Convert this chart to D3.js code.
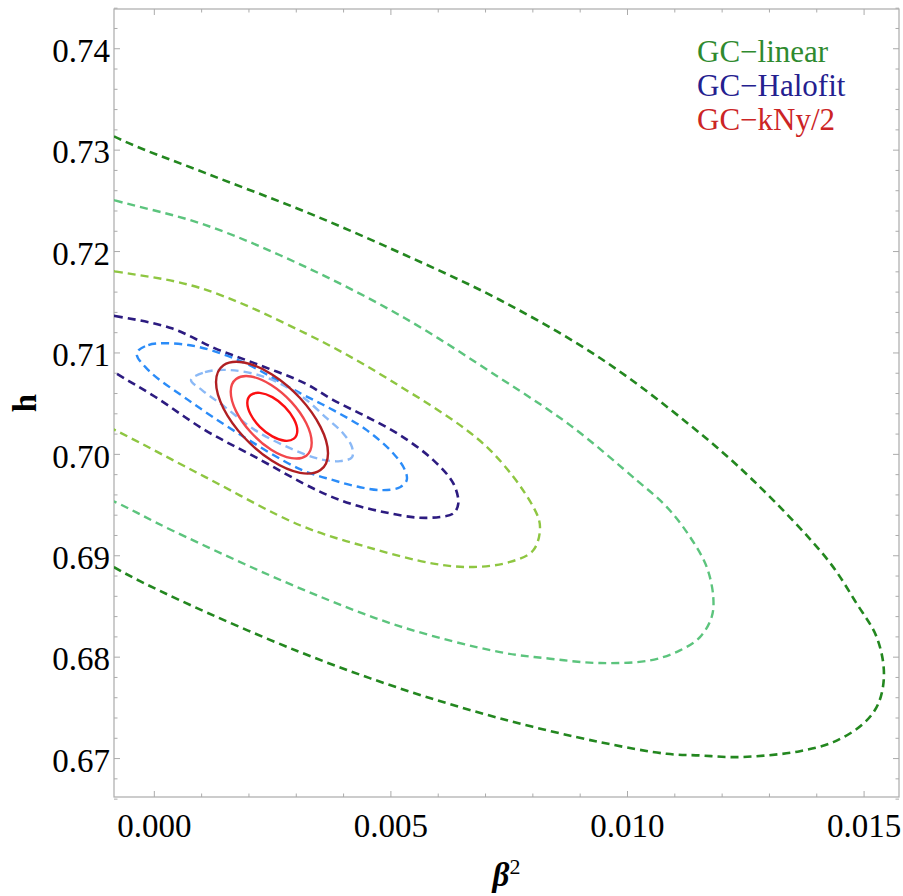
<!DOCTYPE html>
<html>
<head>
<meta charset="utf-8">
<script src="https://cdn.jsdelivr.net/npm/d3@7/dist/d3.min.js"></script>
<style>
  body { margin: 0; background: #fff; }
  svg { display: block; font-family: "Liberation Serif", "Times New Roman", serif; }
</style>
</head>
<body>
<svg id="chart" width="903" height="896"></svg>
<script>
// ---- Data --------------------------------------------------------------------
const xTicks = [0, 0.005, 0.010, 0.015];
const yTicks = [0.67, 0.68, 0.69, 0.70, 0.71, 0.72, 0.73, 0.74];
const legendLabels = ['GC\u2212linear', 'GC\u2212Halofit', 'GC\u2212kNy/2'];

// contour points [beta^2, h], traced round each curve
const linearOuter = [
  [-0.002415, 0.73566], [-0.000852, 0.73136], [0.001071, 0.72776], [0.003185, 0.72394],
  [0.005298, 0.71966], [0.007306, 0.71522], [0.009419, 0.70950], [0.011321, 0.70288],
  [0.012652, 0.69745], [0.014237, 0.68956], [0.014844, 0.68528], [0.015266, 0.68198],
  [0.015420, 0.67840], [0.015300, 0.67541], [0.014983, 0.67344], [0.014349, 0.67162],
  [0.013645, 0.67073], [0.012942, 0.67031], [0.012236, 0.67014], [0.011532, 0.67031],
  [0.010828, 0.67047], [0.009419, 0.67162], [0.007306, 0.67396], [0.005192, 0.67692],
  [0.003079, 0.68050], [0.000543, 0.68561], [-0.000852, 0.68887], [-0.002415, 0.69350]
];
const linearMid = [
  [-0.002415, 0.72707], [-0.000831, 0.72504], [0.001071, 0.72263], [0.003185, 0.71851],
  [0.005298, 0.71342], [0.007306, 0.70752], [0.008785, 0.70288], [0.010194, 0.69745],
  [0.010828, 0.69482], [0.011321, 0.69186], [0.011674, 0.68889], [0.011813, 0.68593],
  [0.011779, 0.68396], [0.011532, 0.68198], [0.011109, 0.68067], [0.010475, 0.67968],
  [0.009419, 0.67942], [0.008362, 0.67985], [0.007306, 0.68050], [0.005192, 0.68304],
  [0.003079, 0.68679], [0.000368, 0.69252], [-0.000831, 0.69531], [-0.002415, 0.69844]
];
const linearInner = [
  [-0.002415, 0.71897], [-0.000831, 0.71804], [0.000966, 0.71641], [0.003185, 0.71196],
  [0.004981, 0.70732], [0.007025, 0.70074], [0.008009, 0.69482], [0.008151, 0.69284],
  [0.008009, 0.69054], [0.007517, 0.68939], [0.006741, 0.68889], [0.005896, 0.68923],
  [0.004489, 0.69087], [0.003079, 0.69301], [0.001071, 0.69778], [-0.000831, 0.70239],
  [-0.002415, 0.70584]
];
const halofitOuter = [
  [-0.001676, 0.71414], [-0.000831, 0.71364], [0.000368, 0.71243], [0.001283, 0.71045],
  [0.002128, 0.70897], [0.003185, 0.70700], [0.003783, 0.70535], [0.004489, 0.70370],
  [0.005192, 0.70190], [0.005896, 0.69943], [0.006319, 0.69713], [0.006424, 0.69515],
  [0.006319, 0.69417], [0.006038, 0.69383], [0.005545, 0.69377], [0.004839, 0.69432],
  [0.004136, 0.69515], [0.003432, 0.69647], [0.002128, 0.69975], [0.001071, 0.70239],
  [0.000015, 0.70568], [-0.000831, 0.70805], [-0.001676, 0.71048], [-0.002204, 0.71275]
];
const halofitMid = [
  [-0.000372, 0.70996], [-0.000127, 0.71078], [0.000719, 0.71078], [0.001775, 0.70930],
  [0.003079, 0.70604], [0.003783, 0.70436], [0.004489, 0.70239], [0.005051, 0.70009],
  [0.005298, 0.69844], [0.005334, 0.69745], [0.005192, 0.69676], [0.004839, 0.69647],
  [0.004347, 0.69676], [0.003783, 0.69745], [0.003079, 0.69854], [0.001775, 0.70206],
  [0.000719, 0.70535], [-0.000127, 0.70831]
];
const halofitInner = [
  [0.000776, 0.70732], [0.001071, 0.70811], [0.001600, 0.70831], [0.002339, 0.70762],
  [0.003079, 0.70584], [0.003643, 0.70357], [0.003988, 0.70209], [0.004178, 0.70071],
  [0.004178, 0.69972], [0.003924, 0.69933], [0.003502, 0.69953], [0.002868, 0.70061],
  [0.002128, 0.70239], [0.001494, 0.70466], [0.001008, 0.70634]
];
const knyOuter = [
  [0.003671, 0.70012], [0.003512, 0.69846], [0.003079, 0.69818], [0.002487, 0.69937],
  [0.001896, 0.70169], [0.001462, 0.70453], [0.001304, 0.70713], [0.001462, 0.70879],
  [0.001896, 0.70906], [0.002487, 0.70788], [0.003079, 0.70556], [0.003512, 0.70271]
];
const knyMid = [
  [0.003326, 0.70114], [0.003212, 0.69987], [0.002899, 0.69963], [0.002470, 0.70046],
  [0.002044, 0.70215], [0.001729, 0.70424], [0.001615, 0.70617], [0.001729, 0.70743],
  [0.002044, 0.70768], [0.002470, 0.70684], [0.002899, 0.70515], [0.003212, 0.70306]
];
const knyInner = [
  [0.003022, 0.70233], [0.002950, 0.70155], [0.002758, 0.70134], [0.002494, 0.70177],
  [0.002230, 0.70271], [0.002037, 0.70393], [0.001965, 0.70507], [0.002037, 0.70585],
  [0.002230, 0.70606], [0.002494, 0.70564], [0.002758, 0.70469], [0.002950, 0.70347]
];

// ---- Layout --------------------------------------------------------------------
const W = 903, H = 896;
const M = { left: 114, top: 9, right: 899, bottom: 797 };
const DASH = '8,5';

const contours = [
  { pts: linearOuter,  color: '#23871f', dash: DASH, w: 2.6, curve: d3.curveCatmullRomClosed.alpha(0.5) },
  { pts: linearMid,    color: '#5cc47d', dash: DASH, w: 2.4, curve: d3.curveCatmullRomClosed.alpha(0.5) },
  { pts: linearInner,  color: '#8ec641', dash: DASH, w: 2.4, curve: d3.curveCatmullRomClosed.alpha(0.5) },
  { pts: halofitOuter, color: '#2c1b80', dash: DASH, w: 2.6, curve: d3.curveCatmullRomClosed.alpha(0.5) },
  { pts: halofitMid,   color: '#2b8cf8', dash: DASH, w: 2.4, curve: d3.curveCatmullRomClosed.alpha(0.5) },
  { pts: halofitInner, color: '#8bb9f6', dash: DASH, w: 2.4, curve: d3.curveCatmullRomClosed.alpha(0.5) },
  { pts: knyOuter,     color: '#b01f22', dash: null, w: 2.4, curve: d3.curveCardinalClosed.tension(0) },
  { pts: knyMid,       color: '#f2474b', dash: null, w: 2.4, curve: d3.curveCardinalClosed.tension(0) },
  { pts: knyInner,     color: '#fb0f12', dash: null, w: 2.4, curve: d3.curveCardinalClosed.tension(0) }
];
const legendColors = ['#2f8a2f', '#24208f', '#cc2425'];

const svg = d3.select('#chart');

const x = d3.scaleLinear().domain([-0.000852, 0.015738]).range([M.left, M.right]);
const y = d3.scaleLinear().domain([0.66621, 0.74392]).range([M.bottom, M.top]);

// ---- Frame + ticks ---------------------------------------------------------------
const FRAME = '#ababab';
svg.append('rect')
  .attr('x', M.left).attr('y', M.top)
  .attr('width', M.right - M.left).attr('height', M.bottom - M.top)
  .attr('fill', 'none').attr('stroke', FRAME).attr('stroke-width', 1.2);

const xMinor = d3.range(0, 0.0156, 0.001).filter(v => !xTicks.some(t => Math.abs(t - v) < 1e-9));
const yMinor = d3.range(0.666, 0.7441, 0.002).filter(v => !yTicks.some(t => Math.abs(t - v) < 1e-9));

const tickG = svg.append('g').attr('stroke', FRAME).attr('stroke-width', 1);
[[xTicks, 6], [xMinor, 3.5]].forEach(([vals, len]) => {
  vals.forEach(v => {
    const px = x(v);
    tickG.append('line').attr('x1', px).attr('x2', px).attr('y1', M.bottom).attr('y2', M.bottom - len);
    tickG.append('line').attr('x1', px).attr('x2', px).attr('y1', M.top).attr('y2', M.top + len);
  });
});
[[yTicks, 6], [yMinor, 3.5]].forEach(([vals, len]) => {
  vals.forEach(v => {
    const py = y(v);
    tickG.append('line').attr('y1', py).attr('y2', py).attr('x1', M.left).attr('x2', M.left + len);
    tickG.append('line').attr('y1', py).attr('y2', py).attr('x1', M.right).attr('x2', M.right - len);
  });
});

// tick labels
svg.append('g').selectAll('text').data(yTicks).join('text')
  .attr('x', 110).attr('y', d => y(d)).attr('dy', '0.4em')
  .attr('text-anchor', 'end')
  .style('font-size', '33px')
  .text(d => d3.format('.2f')(d));

svg.append('g').selectAll('text').data(xTicks).join('text')
  .attr('x', d => x(d)).attr('y', 837)
  .attr('text-anchor', 'middle')
  .style('font-size', '33px')
  .text(d => d3.format('.3f')(d));

// axis titles
svg.append('text')
  .attr('transform', `translate(36,${(M.top + M.bottom) / 2}) rotate(-90)`)
  .attr('text-anchor', 'middle')
  .style('font-size', '33px').style('font-weight', 700)
  .text('h');

const xt = svg.append('text')
  .attr('x', (M.left + M.right) / 2).attr('y', 886)
  .attr('text-anchor', 'middle')
  .style('font-size', '33px');
xt.append('tspan').style('font-weight', 700).style('font-style', 'italic').text('\u03b2');
xt.append('tspan').attr('dy', -12).style('font-size', '22px').text('2');

// ---- Contours --------------------------------------------------------------------
svg.append('clipPath').attr('id', 'plot-clip')
  .append('rect')
  .attr('x', M.left).attr('y', M.top)
  .attr('width', M.right - M.left).attr('height', M.bottom - M.top);

const lineGen = d3.line()
  .x(d => x(d[0]))
  .y(d => y(d[1]));

svg.append('g').attr('clip-path', 'url(#plot-clip)')
  .selectAll('path').data(contours).join('path')
  .attr('d', d => lineGen.curve(d.curve)(d.pts))
  .attr('fill', 'none')
  .attr('stroke', d => d.color)
  .attr('stroke-width', d => d.w)
  .attr('stroke-dasharray', d => d.dash);

// ---- Legend (tight spacing as in the reference, shrunk just enough not to overlap)
svg.append('g').selectAll('text').data(legendLabels).join('text')
  .attr('x', 697)
  .attr('y', (d, i) => 62 + i * 34)
  .style('font-size', '31px')
  .attr('fill', (d, i) => legendColors[i])
  .text(d => d);
</script>
</body>
</html>
